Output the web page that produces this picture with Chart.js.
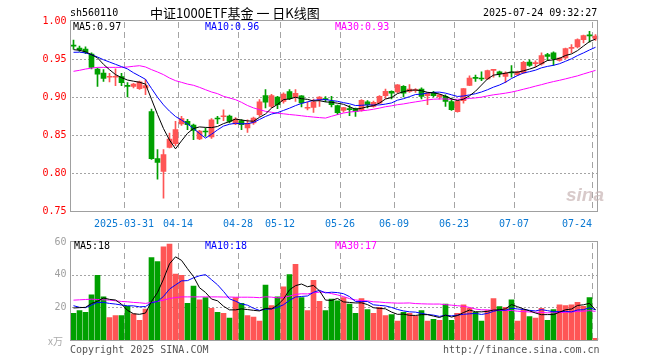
<!DOCTYPE html>
<html><head><meta charset="utf-8">
<script src="https://cdn.jsdelivr.net/npm/chart.js@4.4.1/dist/chart.umd.min.js"></script>
<style>
html,body{margin:0;padding:0;background:#fff;}
body{width:660px;height:360px;overflow:hidden;position:relative;font-family:'DejaVu Sans Mono',monospace;}
.t{position:absolute;font-size:10px;line-height:12px;white-space:pre;font-family:'DejaVu Sans Mono',monospace;z-index:2;}
canvas{position:absolute;left:0;z-index:1;}
.gh{position:absolute;height:1px;z-index:0;background:repeating-linear-gradient(to right,#a4a4a4 0px,#a4a4a4 2px,transparent 2px,transparent 4px);}
.gv{position:absolute;width:1px;z-index:0;background:repeating-linear-gradient(to bottom,#a4a4a4 0px,#a4a4a4 6px,transparent 6px,transparent 10px);}
</style></head><body>
<div id="grid"></div>
<canvas id="k" width="660" height="232" style="top:0px"></canvas>
<canvas id="v" width="660" height="118" style="top:232px"></canvas>
<div class="t" style="left:70px;top:7px;color:#000">sh560110</div>
<div class="t" style="left:150px;top:5px;font-size:13px;line-height:16px;font-family:'Noto Sans CJK SC',sans-serif;color:#000">中证1000ETF基金 一 日K线图</div>
<div class="t" style="left:483px;top:7px;color:#000">2025-07-24 09:32:27</div>
<div class="t" style="left:73px;top:21px;color:#000">MA5:0.97</div>
<div class="t" style="left:205px;top:21px;color:#0000ff">MA10:0.96</div>
<div class="t" style="left:335px;top:21px;color:#ff00ff">MA30:0.93</div>
<div class="t" style="left:74px;top:240px;color:#000">MA5:18</div>
<div class="t" style="left:205px;top:240px;color:#0000ff">MA10:18</div>
<div class="t" style="left:335px;top:240px;color:#ff00ff">MA30:17</div>
<div class="t" style="left:48px;top:335px;color:#aaa;font-family:'Noto Sans CJK SC',sans-serif;">x万</div>
<div class="t" style="left:70px;top:344px;color:#555">Copyright 2025 SINA.COM</div>
<div class="t" style="left:443px;top:344px;color:#555">http://finance.sina.com.cn</div>
<div class="t" style="left:566px;top:184px;font-size:19px;line-height:22px;font-family:'Liberation Sans',sans-serif;font-weight:bold;font-style:italic;color:rgba(200,180,180,0.7)">sina</div>
<script>
const dates = [
'2025-03-18','2025-03-19','2025-03-20','2025-03-21','2025-03-24','2025-03-25','2025-03-26','2025-03-27','2025-03-28','2025-03-31',
'2025-04-01','2025-04-02','2025-04-03','2025-04-07','2025-04-08','2025-04-09','2025-04-10','2025-04-11','2025-04-14','2025-04-15',
'2025-04-16','2025-04-17','2025-04-18','2025-04-21','2025-04-22','2025-04-23','2025-04-24','2025-04-25','2025-04-28','2025-04-29',
'2025-04-30','2025-05-06','2025-05-07','2025-05-08','2025-05-09','2025-05-12','2025-05-13','2025-05-14','2025-05-15','2025-05-16',
'2025-05-19','2025-05-20','2025-05-21','2025-05-22','2025-05-23','2025-05-26','2025-05-27','2025-05-28','2025-05-29','2025-05-30',
'2025-06-03','2025-06-04','2025-06-05','2025-06-06','2025-06-09','2025-06-10','2025-06-11','2025-06-12','2025-06-13','2025-06-16',
'2025-06-17','2025-06-18','2025-06-19','2025-06-20','2025-06-23','2025-06-24','2025-06-25','2025-06-26','2025-06-27','2025-06-30',
'2025-07-01','2025-07-02','2025-07-03','2025-07-04','2025-07-07','2025-07-08','2025-07-09','2025-07-10','2025-07-11','2025-07-14',
'2025-07-15','2025-07-16','2025-07-17','2025-07-18','2025-07-21','2025-07-22','2025-07-23','2025-07-24'];

const openP = [
.968,.9645,.963,.9566,.9368,.9316,.926,.926,.927,.9145,
.914,.911,.912,.8807,.8189,.8022,.8338,.8386,.8645,.868,
.8632,.845,.855,.8474,.8715,.874,.875,.8645,.869,.8592,
.866,.8768,.9018,.8875,.900,.8943,.9072,.900,.9015,.8852,
.8864,.8965,.8978,.8943,.8886,.8824,.8848,.8846,.8824,.8938,
.8877,.892,.9017,.9074,.9066,.914,.9074,.9085,.9105,.9017,
.906,.9005,.9008,.8939,.8807,.8952,.9154,.9254,.9246,.9237,
.935,.933,.9272,.9318,.9294,.9316,.946,.944,.9434,.9557,
.958,.9482,.9513,.964,.9658,.9754,.981,.9765];
const highP = [
.975,.967,.966,.958,.938,.936,.931,.937,.931,.919,
.918,.921,.923,.884,.8307,.8307,.8526,.868,.8746,.8705,
.8645,.856,.859,.8715,.8746,.883,.8763,.8728,.8702,.870,
.8735,.8965,.9096,.9035,.901,.9055,.9096,.9096,.902,.8938,
.8973,.9005,.9005,.9009,.8895,.8864,.8886,.8855,.8965,.8952,
.8945,.902,.9105,.908,.9162,.915,.9162,.911,.912,.9061,
.9075,.9035,.903,.8987,.8952,.911,.928,.929,.933,.9355,
.9365,.934,.933,.9412,.934,.947,.949,.9475,.958,.9575,
.9595,.952,.9645,.9689,.9766,.9815,.9864,.982];
const lowP = [
.963,.960,.957,.937,.914,.9206,.920,.915,.915,.900,
.912,.910,.903,.818,.792,.767,.833,.836,.8625,.857,
.844,.8437,.848,.8456,.865,.869,.866,.8636,.857,.8535,
.864,.8746,.8855,.886,.8846,.892,.8965,.8943,.887,.883,
.8798,.8875,.894,.887,.8768,.880,.8755,.8746,.8815,.8855,
.8865,.891,.898,.8974,.9055,.900,.906,.906,.8974,.890,
.900,.897,.8877,.8825,.880,.892,.915,.9206,.9215,.923,
.926,.9263,.919,.926,.928,.931,.9404,.9395,.942,.948,
.9417,.947,.950,.958,.9645,.971,.972,.9745];
const closeP = [
.967,.9623,.959,.939,.930,.9246,.927,.927,.919,.914,
.917,.920,.915,.819,.814,.8241,.8447,.857,.8715,.8636,
.856,.855,.854,.870,.871,.875,.868,.871,.8636,.8655,
.8724,.8938,.8932,.9018,.890,.904,.8978,.9048,.8921,.8857,
.8935,.8998,.8965,.8899,.8795,.8862,.8833,.881,.8956,.8899,
.893,.9008,.9074,.9052,.916,.9052,.9105,.909,.9008,.9052,
.9017,.903,.8943,.8833,.8943,.911,.925,.9246,.9237,.9346,
.936,.9307,.9316,.9316,.933,.9456,.9417,.9447,.9544,.9535,
.9504,.9513,.9636,.9645,.9754,.9807,.9805,.980];

const volume = [
16.4,18,17,27.6,39.6,26.4,13.8,15,15,20.6,
16,12,19,50.4,48,57,58.8,40.4,39.6,22.4,
33,24.6,26,19.4,17,16.4,13.4,26,22.4,15,
14,11.6,33.6,21,26.4,32.6,40,46.4,26,18,
36.6,23.6,18,25,24,26,22,16.4,25.4,18.6,
16.4,20,15,15.6,11.6,17,16.4,14.6,18,11.6,
12.6,12,22,12,16.4,21.6,19.6,17,11.6,18,
25.4,20.4,20,24.6,11.6,18.6,14.4,13.4,19.4,12,
18.6,21.6,21,21.6,23,20.6,26,1];

// moving-average values before enough history is visible
const ma5Lead = [.9623,.9614,.9596,.9557];
const ma10Lead = [.9588,.959,.958,.9557,.9526,.949,.946,.943,.940];
const ma30Lead = [.9338,.9351,.9368,.938,.939,.939,.939,.939,.939,.9395,
.9404,.9412,.9395,.936,.9329,.9294,.925,.9215,.9193,.917,
.9154,.9127,.9096,.9066,.9044,.9009,.8987,.8965,.893];
const vma5Lead = [19.6,19.8,20,22.4];
const vma10Lead = [21,20,19.8,21.4,23,23,22.4,22,21.4];
const vma30Lead = [24.4,24.6,24.8,25,24.8,24.6,24.4,24,23.6,23.4,
23,22.8,22.4,23,23.6,24.4,25.4,26,26.4,26.4,
26.4,26.4,26.4,26.4,26.4,26.3,26.3,26.2,26.2];

const tickDates = ['2025-03-31','2025-04-14','2025-04-28','2025-05-12','2025-05-26','2025-06-09','2025-06-23','2025-07-07','2025-07-24'];
const tickText = ['2025-03-31','04-14','04-28','05-12','05-26','06-09','06-23','07-07','07-24'];
const priceTicks = [0.80,0.85,0.90,0.95];
const volTicks = [20,40];

const RED = '#ff5555', GREEN = '#00a000';
function ma(arr, n, lead){
  return arr.map((v,i)=> i < n-1 ? lead[i] : arr.slice(i-n+1,i+1).reduce((a,b)=>a+b,0)/n);
}
const colors = closeP.map((c,i)=> c >= openP[i] ? RED : GREEN);

function frameBox(chart){
  const a = chart.chartArea;
  return {L: Math.floor(a.left), R: Math.floor(a.right) - 1, T: Math.floor(a.top) - 1, B: Math.round(a.bottom)};
}

function makeDeco(withLabels){
  return {
    id:'deco',
    afterDraw(chart){
      const ctx = chart.ctx, a = chart.chartArea;
      const x = chart.scales.x;
      const half = (x.getPixelForValue(1) - x.getPixelForValue(0)) / 2;
      const {L,R,T,B} = frameBox(chart);
      ctx.save();
      ctx.fillStyle = '#a0a0a0';
      ctx.fillRect(L, T, R - L + 1, 1);
      ctx.fillRect(L, B, R - L + 1, 1);
      ctx.fillRect(L, T, 1, B - T + 1);
      ctx.fillRect(R, T, 1, B - T + 1);
      if (withLabels){
        ctx.fillStyle = '#0a78d2';
        ctx.font = '10px "DejaVu Sans Mono"';
        ctx.textBaseline = 'middle';
        tickDates.forEach((d,k)=>{
          const px = Math.floor(x.getPixelForValue(dates.indexOf(d)) - half);
          ctx.textAlign = (k === tickDates.length-1) ? 'right' : 'center';
          ctx.fillText(tickText[k], px, a.bottom + 13);
        });
      }
      ctx.restore();
    }
  };
}

// grid lines placed from the chart's own scales, painted beneath the canvas
function addGrid(chart, topOffset, hLines){
  const holder = document.getElementById('grid');
  const x = chart.scales.x, y = chart.scales.y;
  const half = (x.getPixelForValue(1) - x.getPixelForValue(0)) / 2;
  const {L,R,T,B} = frameBox(chart);
  hLines.forEach(v=>{
    const py = Math.round(y.getPixelForValue(v));
    const d = document.createElement('div');
    d.className = 'gh';
    d.style.left = (L + 2) + 'px'; d.style.top = (topOffset + py) + 'px'; d.style.width = (R - L - 2) + 'px';
    holder.appendChild(d);
  });
  tickDates.forEach(dt=>{
    const px = Math.floor(x.getPixelForValue(dates.indexOf(dt)) - half);
    const d = document.createElement('div');
    d.className = 'gv';
    d.style.left = px + 'px'; d.style.top = (topOffset + T + 2) + 'px'; d.style.height = (B - T - 2) + 'px';
    holder.appendChild(d);
  });
}

const monoFont = {family:'DejaVu Sans Mono', size:10};

function xScale(h){
  return {type:'category', offset:true, grid:{display:false}, border:{display:false},
    ticks:{display:false}, afterFit:(s)=>{ s.height = h; }};
}

const kChart = new Chart(document.getElementById('k'), {
  type:'bar',
  data:{
    labels: dates,
    datasets:[
      {type:'line', data: ma(closeP,5,ma5Lead), borderColor:'#000', borderWidth:1, pointRadius:0, tension:0, order:0},
      {type:'line', data: ma(closeP,10,ma10Lead), borderColor:'#0000ff', borderWidth:1, pointRadius:0, tension:0, order:1},
      {type:'line', data: ma(closeP,30,ma30Lead), borderColor:'#ff00ff', borderWidth:1, pointRadius:0, tension:0, order:2},
      {type:'bar', data: closeP.map((c,i)=>[Math.min(c,openP[i]), Math.max(c,openP[i])]), backgroundColor: colors,
        barThickness:5, minBarLength:1, grouped:false, borderWidth:0, order:4},
      {type:'bar', data: closeP.map((c,i)=>[lowP[i], highP[i]]), backgroundColor: colors,
        barThickness:1, grouped:false, borderWidth:0, order:5}
    ]
  },
  options:{
    responsive:false, animation:false, devicePixelRatio:1,
    layout:{padding:{left:0,right:61.5,top:21,bottom:0}},
    plugins:{legend:{display:false}, tooltip:{enabled:false}},
    scales:{
      x: xScale(21),
      y:{min:0.75, max:1.00, grid:{display:false, drawTicks:false}, border:{display:false},
        ticks:{stepSize:0.05, color:'#ff0000', font:monoFont, padding:4, callback:(v)=>Number(v).toFixed(2)},
        afterFit:(s)=>{ s.width = 70.5; }}
    }
  },
  plugins:[makeDeco(true)]
});

const vChart = new Chart(document.getElementById('v'), {
  type:'bar',
  data:{
    labels: dates,
    datasets:[
      {type:'line', data: ma(volume,5,vma5Lead), borderColor:'#000', borderWidth:1, pointRadius:0, tension:0, order:0},
      {type:'line', data: ma(volume,10,vma10Lead), borderColor:'#0000ff', borderWidth:1, pointRadius:0, tension:0, order:1},
      {type:'line', data: ma(volume,30,vma30Lead), borderColor:'#ff00ff', borderWidth:1, pointRadius:0, tension:0, order:2},
      {type:'bar', data: volume, backgroundColor: colors, barThickness:5, grouped:false, borderWidth:0, order:4}
    ]
  },
  options:{
    responsive:false, animation:false, devicePixelRatio:1,
    layout:{padding:{left:0,right:61.5,top:9,bottom:0}},
    plugins:{legend:{display:false}, tooltip:{enabled:false}},
    scales:{
      x: xScale(10),
      y:{min:0, max:60, grid:{display:false, drawTicks:false}, border:{display:false},
        ticks:{stepSize:20, color:'#a0a0a0', font:monoFont, padding:4, callback:(v)=> v===0 ? '' : v},
        afterFit:(s)=>{ s.width = 70.5; }}
    }
  },
  plugins:[makeDeco(false)]
});

try { addGrid(kChart, 0, priceTicks); } catch(e) {}
try { addGrid(vChart, 232, volTicks); } catch(e) {}
</script>
</body></html>
